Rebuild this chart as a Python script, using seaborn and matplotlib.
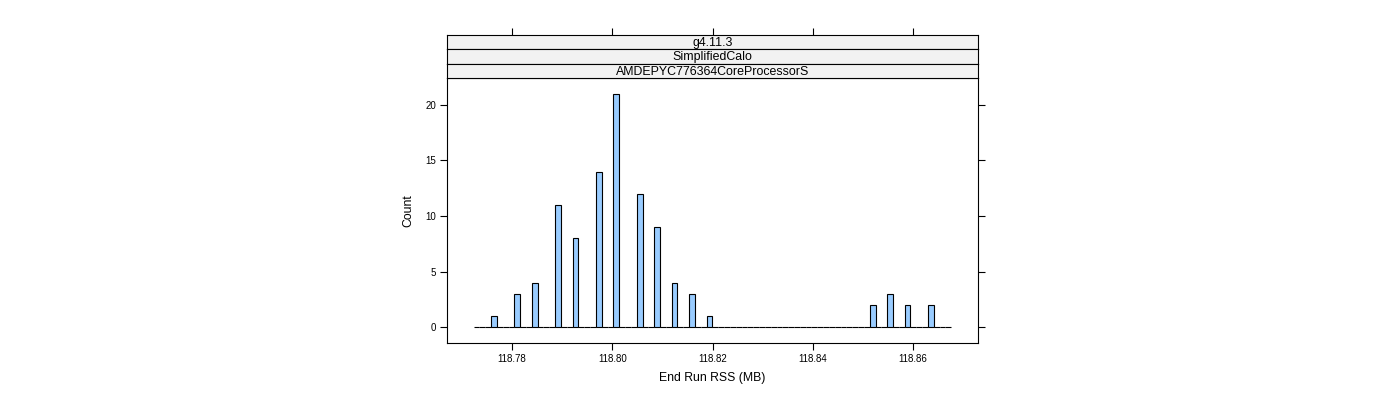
import numpy as np
import matplotlib
matplotlib.use("Agg")
import matplotlib.pyplot as plt
import seaborn as sns

# Data: bar centers (MB) and counts
rss_values = [118.77635, 118.78100, 118.78449, 118.78917, 118.79266, 118.79735,
              118.80080, 118.80546, 118.80891, 118.81240, 118.81589, 118.81942,
              118.85194, 118.85543, 118.85890, 118.86355]
counts = [1, 3, 4, 11, 8, 14, 21, 12, 9, 4, 3, 1, 2, 3, 2, 2]
strip_labels = ["g4.11.3", "SimplifiedCalo", "AMDEPYC776364CoreProcessorS"]
x_ticks = [118.78, 118.80, 118.82, 118.84, 118.86]
y_ticks = [0, 5, 10, 15, 20]

obs = np.repeat(rss_values, counts)

sns.set_style("white")
plt.rcParams["font.family"] = ["Liberation Sans", "DejaVu Sans"]
plt.rcParams["text.color"] = "black"
plt.rcParams["axes.labelcolor"] = "black"
plt.rcParams["xtick.color"] = "black"
plt.rcParams["ytick.color"] = "black"

fig = plt.figure(figsize=(14, 4), dpi=100)
L, W = 447 / 1400, (978 - 447) / 1400
ax = fig.add_axes([L, 1 - 343 / 400, W, (343 - 78) / 400])

bin_lo, bin_w, nbins = 118.7723, 0.001163, 82
edges = bin_lo + bin_w * np.arange(nbins + 1)
sns.histplot(x=obs, bins=edges, ax=ax, color="#99CCFF", edgecolor="black",
             linewidth=0.8, alpha=1.0)

ax.set_xlim(118.767, 118.873)
ax.set_ylim(-1.44, 22.43)
ax.set_xticks(x_ticks)
ax.set_xticklabels([f"{t:.2f}" for t in x_ticks])
ax.set_yticks(y_ticks)
ax.tick_params(axis="both", direction="out", length=5, width=0.8, colors="black",
               labelsize=7, pad=3)
ax.tick_params(axis="y", right=True, left=True)
ax.tick_params(axis="x", bottom=True, top=False)
ax.set_xlabel("End Run RSS (MB)", fontsize=8.8, labelpad=6, color="black")
ax.set_ylabel("Count", fontsize=8.8, labelpad=8, color="black")
for s in ax.spines.values():
    s.set_color("black")
    s.set_linewidth(0.8)

# strips
strip_h = (78 - 35) / 3 / 400
for i, lab in enumerate(strip_labels):
    y0 = 1 - 78 / 400 + (2 - i) * strip_h
    sax = fig.add_axes([L, y0, W, strip_h], sharex=ax)
    sax.set_facecolor("#F2F2F2")
    sax.set_yticks([])
    sax.text(0.5, 0.45, lab, transform=sax.transAxes, ha="center", va="center",
             fontsize=8.9, color="black")
    for s in sax.spines.values():
        s.set_color("black")
        s.set_linewidth(0.8)
    if i == 0:
        sax.tick_params(axis="x", top=True, bottom=False, labeltop=False,
                        labelbottom=False, direction="out", length=5, width=0.8)
    else:
        sax.tick_params(axis="x", top=False, bottom=False, labeltop=False,
                        labelbottom=False)

fig.savefig("out.png", dpi=100)
